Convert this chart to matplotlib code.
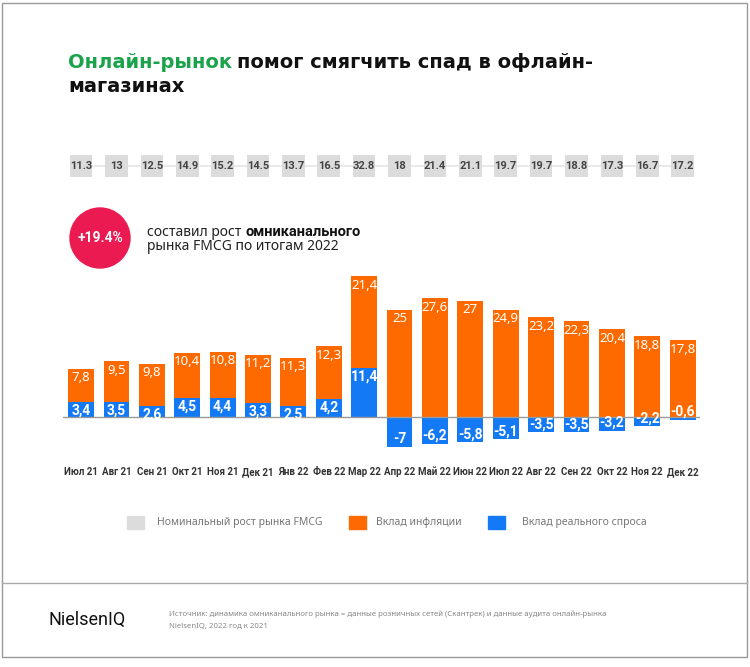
import matplotlib
matplotlib.use("Agg")
import matplotlib.pyplot as plt
import matplotlib.patches as mpatches
import matplotlib.transforms as mtransforms
from matplotlib.font_manager import FontProperties

# data
months = ["Июл 21", "Авг 21", "Сен 21", "Окт 21", "Ноя 21", "Дек 21", "Янв 22", "Фев 22", "Мар 22",
          "Апр 22", "Май 22", "Июн 22", "Июл 22", "Авг 22", "Сен 22", "Окт 22", "Ноя 22", "Дек 22"]
nominal = [11.3, 13, 12.5, 14.9, 15.2, 14.5, 13.7, 16.5, 32.8, 18, 21.4, 21.1, 19.7, 19.7, 18.8, 17.3, 16.7, 17.2]
inflation = [7.8, 9.5, 9.8, 10.4, 10.8, 11.2, 11.3, 12.3, 21.4, 25, 27.6, 27, 24.9, 23.2, 22.3, 20.4, 18.8, 17.8]
real_demand = [3.4, 3.5, 2.6, 4.5, 4.4, 3.3, 2.5, 4.2, 11.4, -7, -6.2, -5.8, -5.1, -3.5, -3.5, -3.2, -2.2, -0.6]

ORANGE = "#ff6a00"
BLUE = "#1479f5"
GRAY = "#dcdcdc"
GREEN = "#1aa34a"
RED = "#eb1a50"
BOLD = "Roboto"

plt.rcParams['font.family'] = ['Noto Sans', 'DejaVu Sans']

W, H = 750, 667
fig = plt.figure(figsize=(7.5, 6.67), dpi=100)

def fbox(x0, y0, x1, y1):
    # pixel box (top-left origin) -> figure rect
    return [x0 / W, 1 - y1 / H, (x1 - x0) / W, (y1 - y0) / H]

def fx(x): return x / W
def fy(y): return 1 - y / H

# frame + footer line
fig.patches.append(mpatches.Rectangle((fx(2), fy(657)), 745 / W, 654 / H,
                                      transform=fig.transFigure, fill=False, edgecolor="#999999", lw=1))
fig.add_artist(plt.Line2D([fx(2), fx(747)], [fy(583), fy(583)], color="#aaaaaa", lw=1))

# title
t1 = fig.text(fx(68), fy(62), "Онлайн-рынок", color=GREEN, fontsize=14, fontweight="bold",
              family="DejaVu Sans", va="center")
fig.canvas.draw()
r = t1.get_window_extent()
fig.text((r.x1 + 5) / W, fy(62), "помог смягчить спад в офлайн-", color="#111111", fontsize=14,
         fontweight="bold", family="DejaVu Sans", va="center")
fig.text(fx(68), fy(86), "магазинах", color="#111111", fontsize=14, fontweight="bold",
         family="DejaVu Sans", va="center")

# red circle
fig.patches.append(mpatches.Circle((100 / 100, (H - 238) / 100), 0.30, transform=fig.dpi_scale_trans,
                                   color=RED))
fig.text(fx(100), fy(238), "+19.4%", color="white", fontsize=10, fontweight="bold", family=BOLD,
         ha="center", va="center")
t2 = fig.text(fx(147), fy(232), "составил рост ", color="#222222", fontsize=10, va="center")
fig.canvas.draw()
bb = t2.get_window_extent()
fig.text(bb.x1 / W, fy(232), "омниканального", color="#111111", fontsize=10.5, fontweight="bold",
         family=BOLD, va="center")
fig.text(fx(147), fy(247), "рынка FMCG по итогам 2022", color="#222222", fontsize=10, va="center")

x = list(range(len(months)))

# nominal row
axt = fig.add_axes(fbox(63, 155, 700, 177))
axt.set_xlim(-0.51, 17.49)
axt.set_ylim(0, 1)
axt.plot([0, 17], [0.5, 0.5], color="#e6e6e6", lw=1.2, zorder=1)
axt.bar(x, 1, width=0.64, bottom=0, color=GRAY, zorder=2)
for i, v in enumerate(nominal):
    axt.text(i, 0.5, f"{v:g}", ha="center", va="center", fontsize=8, color="#444444",
             fontweight="bold", family="Roboto", zorder=3)
axt.axis("off")

# main bars
ax = fig.add_axes(fbox(63, 270, 700, 460))
ax.set_xlim(-0.51, 17.49)
ax.set_ylim(-10, 34.19)
pos_bottom = [d if d > 0 else 0 for d in real_demand]
ax.bar(x, inflation, width=0.73, bottom=pos_bottom, color=ORANGE, zorder=2)
ax.bar(x, real_demand, width=0.73, color=BLUE, zorder=2)
ax.axhline(0, color="#9a9a9a", lw=1, zorder=3)

def fmt(v):
    return f"{v:g}".replace(".", ",")

for i in x:
    top = pos_bottom[i] + inflation[i]
    ax.text(i, top - 2.1, fmt(inflation[i]), ha="center", va="center", color="white", fontsize=9.5, zorder=4)
    d = real_demand[i]
    if d > 0:
        yl = d - 2.0
    else:
        yl = d + 1.8
    ax.text(i, yl, fmt(d), ha="center", va="center", color="white", fontsize=10, fontweight="bold",
            family=BOLD, zorder=4)

# month labels on a common baseline ("Д" descends below "p" and pushes its label down, undo that)
fp = FontProperties(family=BOLD, weight="bold", size=7)
rend = fig.canvas.get_renderer()
d_lp = rend.get_text_width_height_descent("lp", fp, ismath=False)[2]
for i, m in enumerate(months):
    d_m = rend.get_text_width_height_descent(m, fp, ismath=False)[2]
    tr = mtransforms.offset_copy(ax.get_xaxis_transform(), fig=fig, y=max(0, d_m - d_lp), units="dots")
    ax.text(i, -0.079, m, transform=tr, ha="center", va="baseline",
            fontproperties=fp, color="#333333")
ax.set_xticks([])
ax.set_yticks([])
for s in ax.spines.values():
    s.set_visible(False)

# legend
leg = [(127, GRAY, "Номинальный рост рынка FMCG", 157),
       (349, ORANGE, "Вклад инфляции", 376),
       (488, BLUE, "Вклад реального спроса", 522)]
for sx, c, lab, tx in leg:
    fig.patches.append(mpatches.Rectangle((fx(sx), fy(529)), 17 / W, 13 / H, transform=fig.transFigure,
                                          color=c))
    fig.text(fx(tx), fy(523), lab, fontsize=7.5, color="#777777", va="center")

# footer
fig.text(fx(48), fy(620), "NielsenIQ", fontsize=13, color="#111111", family="Roboto", va="center")
fig.text(fx(169), fy(614), "Источник: динамика омниканального рынка = данные розничных сетей (Скантрек) и данные аудита онлайн-рынка",
         fontsize=5.6, color="#888888", va="center")
fig.text(fx(169), fy(626), "NielsenIQ, 2022 год к 2021", fontsize=5.6, color="#888888", va="center")

fig.savefig("out.png", dpi=100)
